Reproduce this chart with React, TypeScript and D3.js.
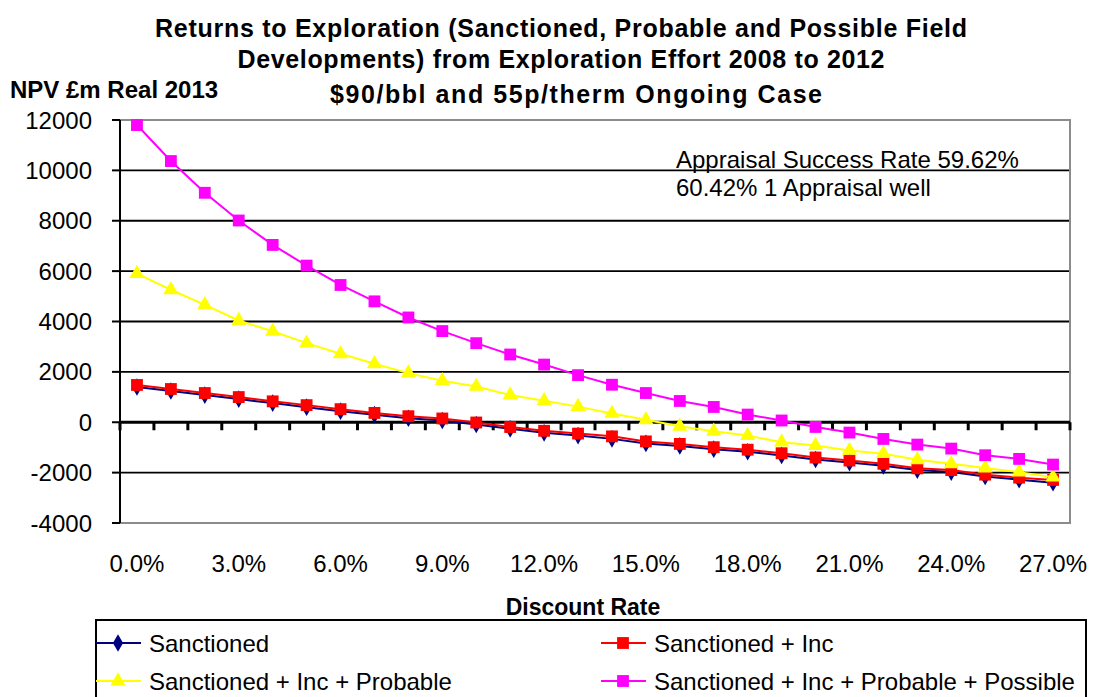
import * as d3 from 'd3'

// discount rates 0%..27%, one point per percent
const rates = d3.range(0, 28)
const rateLabels = rates.map(r => `${r.toFixed(1)}%`)

const sanctioned = [1400, 1240, 1080, 920, 760, 600, 440, 300, 160, 70, -90, -260, -420, -530, -660, -840, -940, -1070, -1170, -1320, -1480, -1600, -1730, -1900, -1980, -2150, -2280, -2400]
const sanctionedInc = [1480, 1320, 1160, 1000, 830, 680, 520, 370, 240, 150, -10, -190, -340, -450, -560, -760, -860, -990, -1090, -1230, -1400, -1520, -1650, -1830, -1900, -2080, -2200, -2290]
const probable = [5900, 5260, 4660, 4040, 3610, 3140, 2720, 2320, 1950, 1650, 1420, 1080, 850, 620, 350, 95, -160, -360, -530, -790, -925, -1120, -1250, -1490, -1650, -1820, -1980, -2180]
const possible = [11800, 10370, 9110, 8010, 7040, 6220, 5450, 4800, 4160, 3620, 3140, 2690, 2290, 1870, 1490, 1160, 845, 607, 305, 70, -186, -410, -663, -887, -1046, -1310, -1455, -1680]

const yTicks = [-4000, -2000, 0, 2000, 4000, 6000, 8000, 10000, 12000]

const titleLines = [
  'Returns to Exploration (Sanctioned, Probable and Possible Field',
  'Developments)  from Exploration Effort 2008 to 2012',
  '$90/bbl and 55p/therm Ongoing Case',
]

type Marker = 'diamond' | 'square' | 'triangle'
const series: { name: string; values: number[]; color: string; marker: Marker }[] = [
  { name: 'Sanctioned', values: sanctioned, color: '#000080', marker: 'diamond' },
  { name: 'Sanctioned + Inc', values: sanctionedInc, color: '#FF0000', marker: 'square' },
  { name: 'Sanctioned + Inc + Probable', values: probable, color: '#FFFF00', marker: 'triangle' },
  { name: 'Sanctioned + Inc + Probable + Possible', values: possible, color: '#FF00FF', marker: 'square' },
]

const W = 1093
const H = 697
const plot = { left: 120, right: 1070, top: 120, bottom: 523 }
const font = '"Liberation Sans", Arial, sans-serif'

const symbolFor = (m: Marker) => {
  if (m === 'diamond') return d3.symbol(d3.symbolDiamond, 90)()
  if (m === 'triangle') return d3.symbol(d3.symbolTriangle, 100)()
  return d3.symbol(d3.symbolSquare, 140)()
}

const App = () => {
  const x = d3.scaleBand<number>().domain(rates).range([plot.left, plot.right]).padding(0)
  const y = d3.scaleLinear().domain([-4000, 12000]).range([plot.bottom, plot.top])
  const cx = (i: number) => (x(i) ?? 0) + x.bandwidth() / 2

  const line = d3.line<number>()
    .x((_, i) => cx(i))
    .y(d => y(d))

  const legendPos = [
    { lx: 96, ly: 643 },
    { lx: 601, ly: 643 },
    { lx: 96, ly: 681 },
    { lx: 601, ly: 681 },
  ]

  return (
    <div style={{ position: 'absolute', left: 0, top: 0 }}>
      <svg width={W} height={H} style={{ display: 'block', fontFamily: font }}>
        <rect width={W} height={H} fill="#fff" />

        {/* title */}
        {titleLines.map((t, i) => (
          <text key={i} x={[561, 561, 576][i]} y={[37, 68, 103][i]} textAnchor="middle"
            fontSize={25} fontWeight="bold" textLength={[812, 647, 492][i]} lengthAdjust="spacing">{t}</text>
        ))}
        <text x={10} y={98} fontSize={24} fontWeight="bold">NPV £m Real 2013</text>

        {/* gridlines */}
        {yTicks.filter(t => t !== 0 && t !== -4000 && t !== 12000).map(t => (
          <line key={t} x1={plot.left} x2={plot.right} y1={y(t)} y2={y(t)} stroke="#000" strokeWidth={1.8} />
        ))}
        {/* plot border */}
        <rect x={plot.left} y={plot.top} width={plot.right - plot.left} height={plot.bottom - plot.top}
          fill="none" stroke="#8c8c8c" strokeWidth={2} />
        {/* y axis */}
        <line x1={plot.left} x2={plot.left} y1={plot.top} y2={plot.bottom} stroke="#000" strokeWidth={2} />
        {yTicks.map(t => (
          <g key={t}>
            <line x1={plot.left - 8} x2={plot.left} y1={y(t)} y2={y(t)} stroke="#000" strokeWidth={2} />
            <text x={92} y={y(t) + 8.5} textAnchor="end" fontSize={24}>{t}</text>
          </g>
        ))}
        {/* category axis at zero */}
        <line x1={plot.left} x2={plot.right} y1={y(0)} y2={y(0)} stroke="#000" strokeWidth={3} />
        {d3.range(0, rates.length + 1).map(k => {
          const tx = plot.left + k * x.bandwidth()
          return <line key={k} x1={tx} x2={tx} y1={y(0)} y2={y(0) + 8} stroke="#000" strokeWidth={3} />
        })}
        {rates.filter(r => r % 3 === 0).map(r => (
          <text key={r} x={cx(r)} y={572} textAnchor="middle" fontSize={24}>{rateLabels[r]}</text>
        ))}
        <text x={583} y={615} textAnchor="middle" fontSize={23} fontWeight="bold">Discount Rate</text>

        {/* annotation */}
        <text x={676} y={168} fontSize={24}>Appraisal Success Rate 59.62%</text>
        <text x={676} y={196} fontSize={24}>60.42% 1 Appraisal well</text>

        {/* series */}
        {series.map(s => (
          <g key={s.name}>
            <path d={line(s.values) ?? ''} fill="none" stroke={s.color} strokeWidth={2} />
            {s.values.map((v, i) => (
              <path key={i} d={symbolFor(s.marker) ?? ''} transform={`translate(${cx(i)},${y(v)})`} fill={s.color} />
            ))}
          </g>
        ))}

        {/* legend */}
        <rect x={96} y={620} width={990} height={100} fill="#fff" stroke="#000" strokeWidth={2} />
        {series.map((s, i) => {
          const { lx, ly } = legendPos[i]
          return (
            <g key={s.name}>
              <line x1={lx} x2={lx + 45} y1={ly} y2={ly} stroke={s.color} strokeWidth={2} />
              <path d={symbolFor(s.marker) ?? ''} transform={`translate(${lx + 22},${ly})`} fill={s.color} />
              <text x={lx + 53} y={ly + 8.5} fontSize={24}>{s.name}</text>
            </g>
          )
        })}
      </svg>
    </div>
  )
}

export default App
